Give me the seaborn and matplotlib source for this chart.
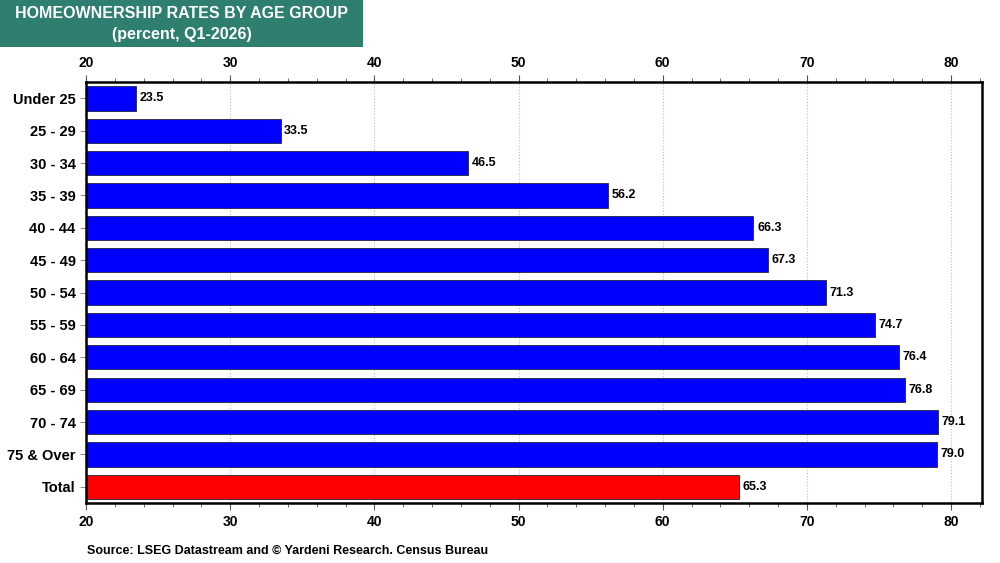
import matplotlib.pyplot as plt
from matplotlib.ticker import MultipleLocator
from matplotlib.patches import Rectangle
import seaborn as sns
import pandas as pd

# Data
age_groups = ['Under 25', '25 - 29', '30 - 34', '35 - 39', '40 - 44', '45 - 49', '50 - 54',
              '55 - 59', '60 - 64', '65 - 69', '70 - 74', '75 & Over', 'Total']
rates = [23.5, 33.5, 46.5, 56.2, 66.3, 67.3, 71.3, 74.7, 76.4, 76.8, 79.1, 79.0, 65.3]
bar_colors = ['#0000ff'] * 12 + ['#ff0000']

sns.set_style('white')
plt.rcParams['font.family'] = ['Liberation Sans', 'DejaVu Sans']
plt.rcParams['font.weight'] = 'bold'
plt.rcParams['text.color'] = 'black'
plt.rcParams['xtick.labelcolor'] = 'black'
plt.rcParams['ytick.labelcolor'] = 'black'

df = pd.DataFrame({'group': age_groups, 'rate': rates})

fig = plt.figure(figsize=(10, 5.63), dpi=100)
ax = fig.add_axes([0.086, 0.1066, 0.896, 0.7474])

sns.barplot(data=df, x='rate', y='group', hue='group', palette=bar_colors, legend=False,
            orient='h', width=0.75, saturation=1, edgecolor='#222244', linewidth=0.6, ax=ax)
ax.set_xlim(20, 82.15)
ax.set_ylim(len(age_groups) - 0.5, -0.5)

for i, v in enumerate(rates):
    ax.text(v + 0.25, i, f'{v:.1f}', va='center', ha='left', fontsize=9, fontweight='bold', color='black')

ax.xaxis.set_major_locator(MultipleLocator(10))
ax.xaxis.set_minor_locator(MultipleLocator(2))
ax.tick_params(axis='x', which='both', top=True, bottom=True, labeltop=True, labelbottom=True,
               direction='out', labelsize=10)
ax.tick_params(axis='x', which='major', length=5, width=0.8, color='#555555')
ax.tick_params(axis='x', which='minor', length=3, width=0.6, color='#555555')
ax.tick_params(axis='y', left=True, length=4, width=0.6, color='#777777', labelsize=10.5)
for lab in ax.get_xticklabels() + ax.get_yticklabels():
    lab.set_fontweight('bold')

ax.grid(axis='x', which='major', linestyle=':', color='#bbbbbb', linewidth=0.8)
ax.set_axisbelow(True)
ax.set_xlabel('')
ax.set_ylabel('')
for s in ax.spines.values():
    s.set_visible(True)
    s.set_color('black')
    s.set_linewidth(1.8)

# Title box
fig.patches.append(Rectangle((0, 1 - 47 / 563), 0.363, 47 / 563, transform=fig.transFigure,
                             facecolor='#2e7f70', edgecolor='none'))
fig.text(0.1815, 1 - 13 / 563, 'HOMEOWNERSHIP RATES BY AGE GROUP', color='white',
         ha='center', va='center', fontsize=11.5, fontweight='bold')
fig.text(0.1815, 1 - 34 / 563, '(percent, Q1-2026)', color='white',
         ha='center', va='center', fontsize=11.5, fontweight='bold')

fig.text(0.087, 1 - 551 / 563, 'Source: LSEG Datastream and \u00a9 Yardeni Research. Census Bureau',
         ha='left', va='center', fontsize=9, fontweight='bold', color='black')

fig.savefig('out.png', dpi=100)
